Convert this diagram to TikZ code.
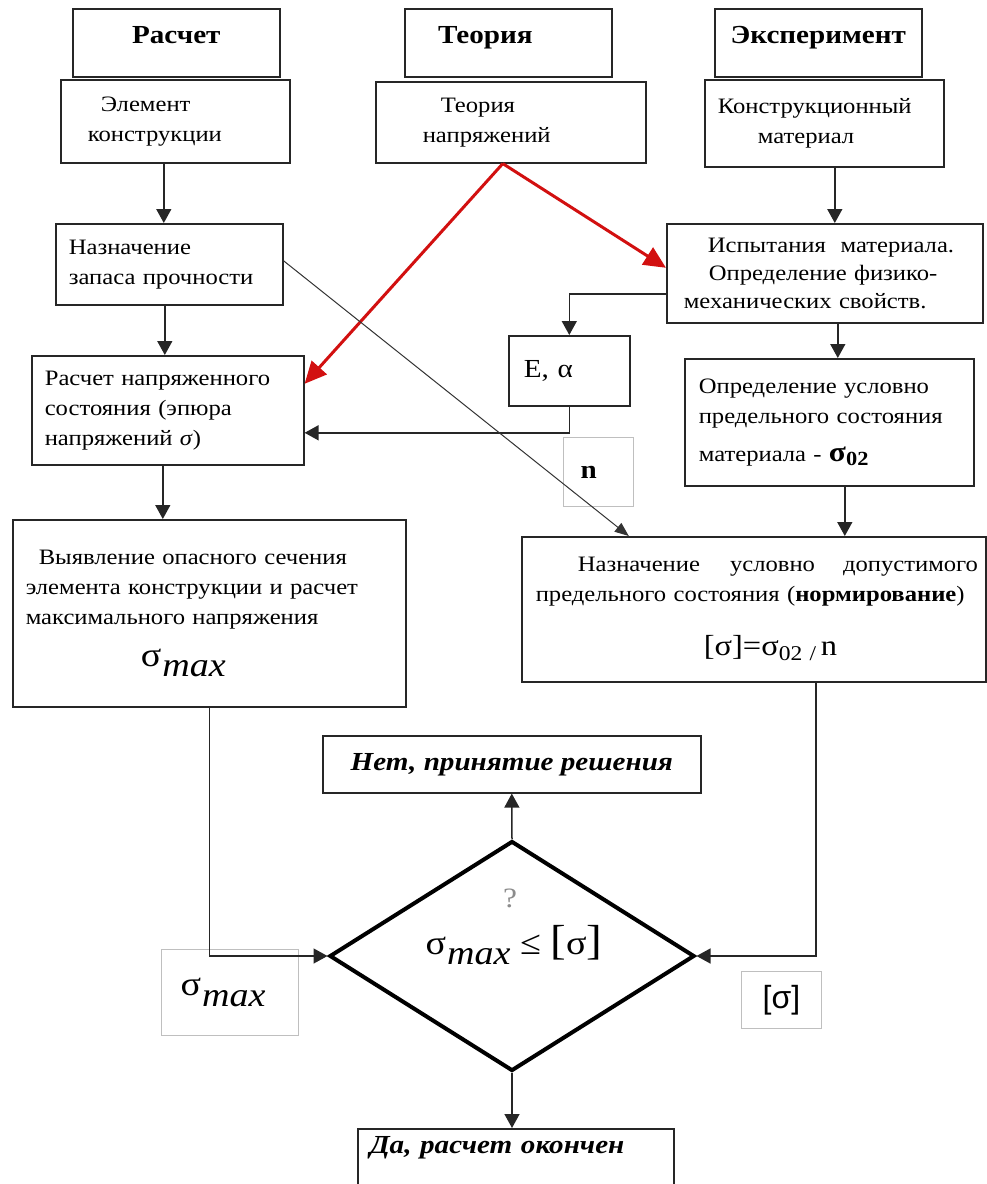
\documentclass[tikz,border=0pt]{standalone}
\usepackage{fontspec}
\setmainfont{Liberation Serif}[FakeStretch=1.12]
\setsansfont{Liberation Sans}
\usepackage{tikz}
\usetikzlibrary{arrows.meta,shapes.geometric}
\definecolor{krasn}{RGB}{210,16,16}
\newcommand{\telo}{\fontsize{22}{30}\selectfont}
\newcommand{\zag}{\fontsize{26}{30}\selectfont\bfseries}
\newcommand{\smax}{σ\kern1pt\raisebox{-0.3em}{\itshape max}}
\tikzstyle{blok} = [draw=black!85, line width=1.6pt, rectangle, anchor=north west,
    align=left, inner ysep=0pt, font=\telo]
\tikzstyle{zagolovok} = [blok, align=center, inner xsep=0pt, text height=35pt,
    text depth=33pt, font=\zag]
\tikzstyle{itog} = [blok, align=center, font={\fontsize{26}{30}\selectfont\bfseries\itshape}]
\tikzstyle{metka} = [draw=black!25, line width=1pt, rectangle, anchor=north west, inner ysep=0pt]
\tikzstyle{romb} = [draw=black, line width=4pt, diamond, minimum width=365pt,
    minimum height=230pt, inner sep=0pt]
\tikzstyle{strelka} = [draw=black!85, line width=1.5pt, -{Triangle[length=14pt,width=15pt]}]
\tikzstyle{tonkaja} = [draw=black!80, line width=1pt, -{Triangle[length=14pt,width=11pt]}]
\tikzstyle{krasnaja} = [draw=krasn, line width=3pt, -{Triangle[length=22pt,width=20pt]}]

\begin{document}
\begin{tikzpicture}[x=1pt,y=-1pt]
\useasboundingbox (0,0) rectangle (986,1184);
\node[zagolovok, minimum width=207pt] (zagR) at (72,8) {Расчет};
\node[zagolovok, minimum width=207pt] (zagT) at (404,8) {Теория\hspace*{46pt}};
\node[zagolovok, minimum width=207pt] (zagE) at (714,8) {Эксперимент};

\node[blok, minimum height=83pt, inner xsep=27pt, text width=175pt] (elem) at (60,79)
    {\hspace*{13pt}Элемент\\конструкции};
\node[blok, minimum height=81pt, inner xsep=47pt, text width=176pt] (teor) at (375,81)
    {\hspace*{18pt}Теория\\напряжений};
\node[blok, minimum height=87pt, inner xsep=13pt, text width=213pt] (konstr) at (704,79)
    {Конструкционный\\\hspace*{40pt}материал};
\node[blok, minimum height=81pt, inner xsep=13pt, text width=201pt] (zapas) at (55,223)
    {Назначение\\запаса прочности};
\node[blok, minimum height=99pt, inner xsep=17pt, text width=282pt,
    font=\fontsize{22}{28}\selectfont] (ispyt) at (666,223)
    {\hspace*{24pt}Испытания~~материала.\\\hspace*{25pt}Определение физико-\\механических свойств.};
\node[blok, minimum height=109pt, inner xsep=13pt, text width=246pt] (napr) at (31,355)
    {Расчет напряженного\\состояния (эпюра\\напряжений \textit{σ})};
\node[blok, minimum height=70pt, inner xsep=15pt, text width=91pt,
    font=\fontsize{26}{30}\selectfont] (modul) at (508,335) {E, α};
\node[blok, minimum height=127pt, inner xsep=14pt, text width=261pt] (predel) at (684,358)
    {Определение условно\\предельного состояния\\[8pt]материала - {\bfseries\fontsize{28}{28}\selectfont
    σ\raisebox{-4pt}{\fontsize{20}{20}\selectfont 02}}};
\node[blok, minimum height=187pt, inner xsep=13pt, text width=367pt] (opasn) at (12,519)
    {\hspace*{13pt}Выявление опасного сечения\\элемента конструкции и расчет\\максимального напряжения\\[12pt]
    \hspace*{115pt}{\fontsize{34}{34}\selectfont\smax}};
\node[blok, minimum height=145pt, inner xsep=14pt, text width=436pt] (dopusk) at (521,536)
    {\mbox{\hspace*{42pt}Назначение\hspace{30pt}условно\hspace{28pt}допустимого}\\\mbox{предельного
    состояния (\textbf{нормирование})}\\[24pt]\hspace*{168pt}{\fontsize{29}{30}\selectfont
    [σ]=σ\raisebox{-5pt}{\fontsize{21}{21}\selectfont 02 /}\,n}};

\node[metka, minimum width=70pt, minimum height=69pt, inner xsep=17pt, text width=36pt,
    align=left, font=\fontsize{26}{30}\selectfont\bfseries] (koef) at (563,437) {n};
\node[metka, minimum width=137pt, minimum height=86pt, inner xsep=19pt, text width=99pt,
    align=left, font=\fontsize{34}{34}\selectfont] (smaxm) at (161,949) {\smax};
\node[metka, minimum width=80pt, minimum height=57pt,
    font=\sffamily\fontsize{32}{34}\selectfont] (sigm) at (741,971) {[σ]};

\node[itog, minimum width=378pt, minimum height=57pt] (net) at (322,735) {Нет, принятие решения};
\node[romb] (prov) at (512,956) {};
\node[font=\fontsize{34}{34}\selectfont] (usl) at (514,945)
    {\smax\ ≤ {\fontsize{42}{42}\selectfont[}σ{\fontsize{42}{42}\selectfont]}};
\node[text=black!45, font=\fontsize{28}{28}\selectfont] (vopr) at (510,898) {?};
\node[itog, align=left, text width=292pt, inner xsep=12pt, text height=25pt,
    text depth=56pt] (da) at (357,1128) {Да, расчет окончен};

\draw[strelka] ([xshift=-11.5pt]elem.south) -- ([xshift=-11.5pt]elem.south |- zapas.north);
\draw[strelka] ([xshift=-4.5pt]zapas.south) -- ([xshift=-4.5pt]zapas.south |- napr.north);
\draw[strelka] ([xshift=-5pt]napr.south) -- ([xshift=-5pt]napr.south |- opasn.north);
\draw[strelka] ([xshift=10.5pt]konstr.south) -- ([xshift=10.5pt]konstr.south |- ispyt.north);
\draw[strelka] ([xshift=13pt]ispyt.south) -- ([xshift=13pt]ispyt.south |- predel.north);
\draw[strelka] ([xshift=15.5pt]predel.south) -- ([xshift=15.5pt]predel.south |- dopusk.north);
\draw[strelka] ([yshift=-20.5pt]ispyt.west) -| (modul.north);
\draw[strelka] (modul.south) |- ([yshift=-22.5pt]napr.east);
\draw[krasnaja] ([xshift=-8pt]teor.south) -- ([yshift=5.5pt]ispyt.west);
\draw[krasnaja] ([xshift=-8pt]teor.south) -- ([yshift=26.5pt]napr.east);
\draw[tonkaja] ([yshift=3.5pt]zapas.east) -- ([xshift=-125pt]dopusk.north);
\draw[strelka] (opasn.south) |- (prov.west);
\draw[strelka] ([xshift=62pt]dopusk.south) |- (prov.east);
\draw[strelka] (prov.north) -- (net.south);
\draw[strelka] (prov.south) -- (prov.south |- da.north);
\end{tikzpicture}
\end{document}
